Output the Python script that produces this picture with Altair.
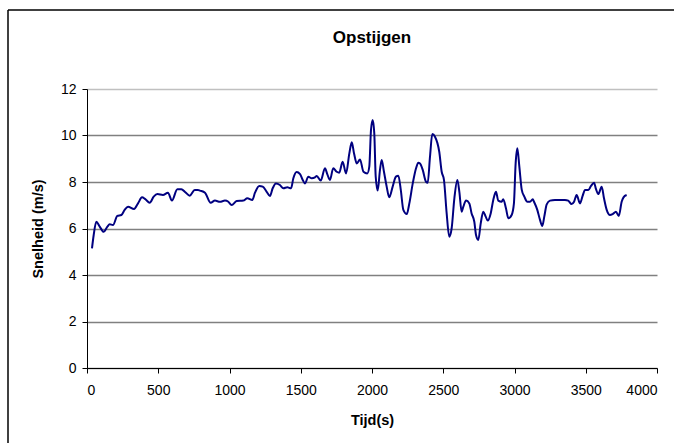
import altair as alt
import pandas as pd

# Tijd (s)
tijd = [35, 47, 65, 89, 117, 143, 159, 182, 213, 241, 264, 288, 330, 358, 386, 409, 440, 468, 494, 533,
        568, 596, 634, 662, 690, 721, 756, 779, 793, 828, 868, 898, 933, 968, 992, 1015, 1050, 1097,
        1125, 1160, 1179, 1209, 1233, 1261, 1284, 1303, 1326, 1354, 1378, 1406, 1432, 1448, 1471, 1495,
        1514, 1530, 1553, 1577, 1600, 1612, 1640, 1670, 1686, 1705, 1728, 1752, 1770, 1794, 1818, 1841,
        1858, 1874, 1893, 1916, 1940, 1967, 1981, 1993, 2005, 2016, 2026, 2040, 2056, 2068, 2084, 2103,
        2121, 2145, 2168, 2185, 2202, 2220, 2244, 2262, 2286, 2309, 2325, 2337, 2356, 2379, 2391, 2407,
        2423, 2442, 2472, 2489, 2505, 2524, 2542, 2559, 2578, 2599, 2613, 2629, 2641, 2660, 2683, 2699,
        2718, 2730, 2746, 2763, 2781, 2798, 2812, 2833, 2851, 2870, 2886, 2910, 2921, 2940, 2957, 2980,
        2996, 3008, 3020, 3034, 3051, 3069, 3090, 3109, 3128, 3137, 3160, 3179, 3195, 3209, 3226, 3249,
        3284, 3319, 3354, 3377, 3401, 3418, 3436, 3460, 3478, 3495, 3518, 3537, 3558, 3572, 3588, 3612,
        3628, 3647, 3670, 3689, 3712, 3732, 3752, 3765, 3787]

# Snelheid (m/s)
snelheid = [5.15, 5.72, 6.29, 6.08, 5.86, 6.08, 6.18, 6.15, 6.54, 6.58, 6.80, 6.94, 6.84, 7.08, 7.34, 7.26,
            7.11, 7.37, 7.48, 7.44, 7.54, 7.20, 7.69, 7.69, 7.56, 7.41, 7.66, 7.66, 7.63, 7.54, 7.11, 7.20,
            7.15, 7.20, 7.15, 7.01, 7.18, 7.20, 7.30, 7.23, 7.54, 7.83, 7.80, 7.58, 7.40, 7.73, 7.94, 7.87,
            7.73, 7.77, 7.73, 8.16, 8.43, 8.34, 8.09, 7.94, 8.23, 8.16, 8.20, 8.26, 8.06, 8.59, 8.34, 8.09,
            8.59, 8.44, 8.40, 8.87, 8.37, 9.23, 9.71, 9.23, 8.80, 8.97, 8.44, 8.37, 8.66, 10.24, 10.67,
            10.09, 8.23, 7.63, 8.52, 8.95, 8.44, 7.80, 7.34, 7.80, 8.23, 8.27, 7.66, 6.80, 6.62, 7.08,
            7.94, 8.59, 8.83, 8.80, 8.52, 8.01, 7.97, 9.09, 10.06, 9.95, 9.30, 8.44, 8.09, 6.65, 5.65,
            6.01, 7.30, 8.09, 7.58, 6.72, 6.94, 7.20, 7.08, 6.65, 6.29, 5.72, 5.51, 6.22, 6.72, 6.51,
            6.34, 6.65, 7.23, 7.58, 7.20, 7.15, 7.26, 6.87, 6.44, 6.58, 7.08, 8.80, 9.45, 8.66, 7.66,
            7.37, 7.15, 7.15, 7.26, 7.15, 6.80, 6.37, 6.11, 6.51, 7.04, 7.20, 7.23, 7.23, 7.23, 7.20,
            7.05, 7.15, 7.44, 7.08, 7.40, 7.66, 7.66, 7.83, 7.97, 7.69, 7.48, 7.80, 7.30, 6.80, 6.58,
            6.62, 6.72, 6.54, 7.15, 7.34, 7.44]

x_ticks = [0, 500, 1000, 1500, 2000, 2500, 3000, 3500, 4000]
y_ticks = [0, 2, 4, 6, 8, 10, 12]
chart_title = "Opstijgen"

df = pd.DataFrame({"tijd": tijd, "snelheid": snelheid})
one = pd.DataFrame({"label": [chart_title]})
FONT = "Liberation Sans"

line = alt.Chart(df).mark_line(color="#000080", strokeWidth=2, interpolate="monotone").encode(
    x=alt.X("tijd:Q",
            scale=alt.Scale(domain=[0, 4000], nice=False),
            axis=alt.Axis(values=x_ticks, title="Tijd(s)", grid=False, format="d",
                          domainColor="#000000", tickColor="#000000", tickSize=5,
                          labelFont=FONT, labelFontSize=14, labelColor="#000000", labelPadding=10,
                          titleFont=FONT, titleFontSize=14.5, titleFontWeight="bold", titleColor="#000000",
                          titlePadding=16)),
    y=alt.Y("snelheid:Q",
            scale=alt.Scale(domain=[0, 12], nice=False),
            axis=alt.Axis(values=y_ticks, title="Snelheid (m/s)", grid=True, format="d",
                          gridColor={"condition": {"test": "datum.value == 12", "value": "#c0c0c0"},
                                     "value": "#808080"},
                          gridWidth=1.5,
                          domainColor="#000000", tickColor="#000000", tickSize=5,
                          labelFont=FONT, labelFontSize=14, labelColor="#000000", labelPadding=6,
                          titleFont=FONT, titleFontSize=14.5, titleFontWeight="bold", titleColor="#000000",
                          titlePadding=15)),
)

title = alt.Chart(one).mark_text(font=FONT, fontSize=17, fontWeight="bold", color="#000000",
                                 align="center", baseline="alphabetic").encode(
    x=alt.value(285), y=alt.value(-46), text="label:N")

border_top = alt.Chart(one).mark_rule(color="#000000", strokeWidth=1.5).encode(
    x=alt.value(-79), x2=alt.value(700), y=alt.value(-79))
border_left = alt.Chart(one).mark_rule(color="#000000", strokeWidth=1.5).encode(
    x=alt.value(-79), y=alt.value(-79), y2=alt.value(400))

chart = alt.layer(border_top, border_left, title, line).properties(
    width=570, height=279,
    autosize=alt.AutoSizeParams(type="none"),
    padding={"left": 87, "top": 89, "right": 17, "bottom": 76},
    background="#ffffff",
).configure_view(stroke=None)

chart.save("out.html", embed_options={"renderer": "svg", "actions": False})
